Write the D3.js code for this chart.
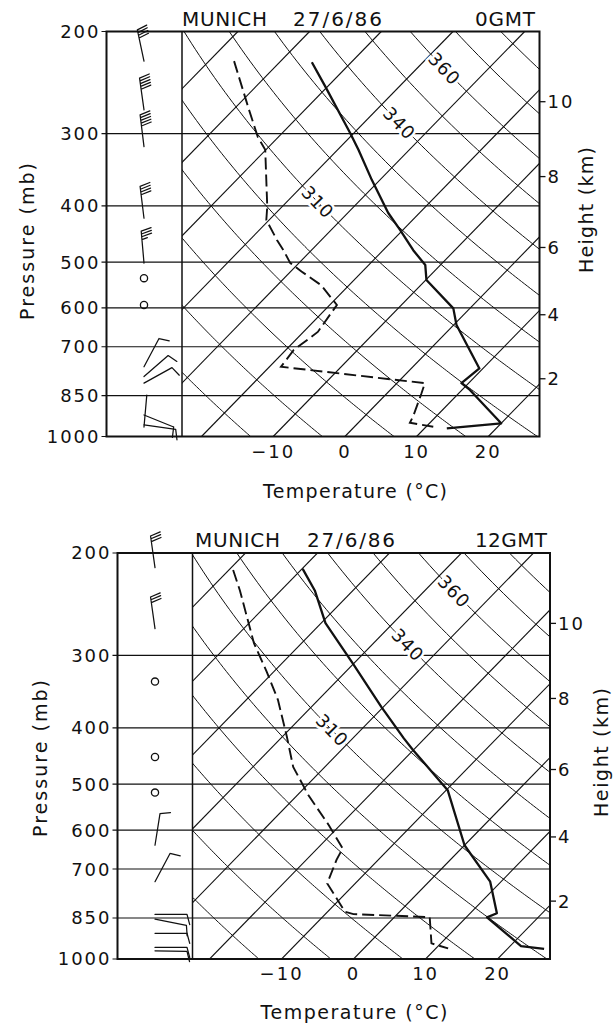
<!DOCTYPE html>
<html><head><meta charset="utf-8">
<script src="https://cdn.jsdelivr.net/npm/d3@7"></script>
<style>body{margin:0;background:#fff}svg{display:block}</style>
</head><body>
<script>
// ---------------- DATA ----------------
const pressureTicks = [200, 300, 400, 500, 600, 700, 850, 1000];
const tempTicks = [-10, 0, 10, 20];
const heightTicks = [2, 4, 6, 8, 10];           // km
const isothermValues = d3.range(-90, 41, 10);   // grid isotherms (°C)
const thetaValues = d3.range(240, 411, 10);     // grid dry adiabats (K)
const thetaLabels = [310, 340, 360];

// 0 GMT sounding
const tempP_00 = [226, 249, 299, 320, 361, 411, 440, 477, 506, 537, 601, 642, 763, 809, 831, 949, 968];
const tempT_00 = [-55.5, -50.3, -40.6, -37.1, -31.1, -24.4, -20.4, -15.8, -12.1, -9.9, -2.3, 0.4, 9.5, 9.0, 11.1, 20.0, 13.1];
const dewP_00 = [225, 273, 304, 320, 401, 423, 458, 477, 502, 519, 548, 593, 660, 709, 758, 809, 842, 924, 947, 962];
const dewT_00 = [-66.5, -57.8, -52.9, -50.1, -42.1, -40.4, -36.2, -33.9, -31.2, -28.5, -23.9, -19.0, -18.0, -18.9, -18.4, 3.9, 4.8, 6.8, 7.2, 11.0];
const windP_00 = [225, 273, 316, 420, 502, 533, 593, 758, 788, 809, 918, 955, 963];
const windDir_00 = [348, 352, 353, 353, 355, 0, 0, 28, 49, 61, 112, 98, 5];
const windSpd_00 = [40, 50, 50, 40, 35, 0, 0, 10, 10, 10, 10, 10, 3];
const thetaLabelP_00 = [394, 288, 232];

// 12 GMT sounding
const tempP_12 = [213, 232, 264, 310, 368, 417, 437, 512, 637, 736, 834, 848, 950, 961];
const tempT_12 = [-59.9, -55.3, -49.4, -40.1, -30.3, -22.9, -20.0, -9.8, 0.0, 8.5, 13.7, 12.9, 21.5, 25.1];
const dewP_12 = [214, 232, 286, 320, 358, 414, 467, 522, 588, 645, 675, 741, 829, 837, 847, 940, 959];
const dewT_12 = [-69.4, -65.7, -56.6, -51.0, -45.6, -39.4, -34.4, -28.5, -21.6, -16.5, -15.8, -13.9, -7.6, -6.1, 4.9, 8.7, 11.7];
const windP_12 = [212, 270, 333, 449, 517, 637, 736, 838, 854, 903, 955, 968];
const windDir_12 = [352, 352, 0, 0, 0, 9, 28, 90, 101, 90, 90, 91];
const windSpd_12 = [30, 30, 0, 0, 0, 10, 10, 10, 10, 10, 10, 10];
const thetaLabelP_12 = [404, 288, 233];

// ---------------- LAYOUT ----------------
const W = 613, H = 1025;
const FONT = "'DejaVu Sans', 'Liberation Sans', Arial, sans-serif";
const INK = "#111";

const panels = [
  { left: 106.5, div: 182, right: 539.5, top: 31.5, bottom: 436.5, t0: 344.9, k: 7.17, s: 0.975, barbX: 144,
    title: [["MUNICH", 182, 85], ["27/6/86", 293, 89], ["0GMT", 475, 60]], titleY: 25.5,
    tempP: tempP_00, tempT: tempT_00, dewP: dewP_00, dewT: dewT_00,
    windP: windP_00, windDir: windDir_00, windSpd: windSpd_00, labP: thetaLabelP_00,
    xTitle: { x: 355, y: 498, len: 184 }, pTitle: { x: 33.5, y: 241.5, len: 157 }, hTitle: { x: 593, y: 210, len: 126 } },
  { left: 117.5, div: 192.5, right: 550, top: 553, bottom: 959, t0: 353.6, k: 7.2, s: 0.975, barbX: 155,
    title: [["MUNICH", 195, 85], ["27/6/86", 307, 88], ["12GMT", 475, 72]], titleY: 547,
    tempP: tempP_12, tempT: tempT_12, dewP: dewP_12, dewT: dewT_12,
    windP: windP_12, windDir: windDir_12, windSpd: windSpd_12, labP: thetaLabelP_12,
    xTitle: { x: 354, y: 1019, len: 187 }, pTitle: { x: 46.5, y: 758.5, len: 157 }, hTitle: { x: 608, y: 752.5, len: 129 } }
];

const svg = d3.select("body").append("svg").attr("width", W).attr("height", H)
  .style("font-family", FONT);

// standard atmosphere height (km) -> pressure (mb)
const stdP = h => 1013.25 * Math.pow(1 - 2.25577e-5 * h * 1000, 5.25588);

function drawBarb(g, sx, sy, dir, spd) {
  if (spd === 0) {
    g.append("circle").attr("cx", sx).attr("cy", sy).attr("r", 3.6)
      .attr("fill", "none").attr("stroke", INK).attr("stroke-width", 1.3);
    return;
  }
  const a = dir * Math.PI / 180, ux = Math.sin(a), uy = -Math.cos(a);
  const SL = 32, FL = 10.5, gap = 2.8, tilt = 15 * Math.PI / 180;
  const tx = sx + ux * SL, ty = sy + uy * SL;
  const px = -uy, py = ux;
  const fx = Math.cos(tilt) * px + Math.sin(tilt) * ux, fy = Math.cos(tilt) * py + Math.sin(tilt) * uy;
  let d = `M${sx},${sy}L${tx},${ty}`;
  const n = Math.floor(spd / 10), half = (spd % 10) >= 5;
  for (let i = 0; i < n; i++) {
    const bx = tx - ux * gap * i, by = ty - uy * gap * i;
    d += `M${bx},${by}l${fx * FL},${fy * FL}`;
  }
  if (half) {
    const bx = tx - ux * gap * n, by = ty - uy * gap * n;
    d += `M${bx},${by}l${fx * FL * 0.55},${fy * FL * 0.55}`;
  }
  g.append("path").attr("d", d).attr("fill", "none").attr("stroke", INK)
    .attr("stroke-width", 1.25).attr("stroke-linecap", "round");
}

panels.forEach((L, idx) => {
  const g = svg.append("g");
  const y = d3.scaleLog().domain([1000, 200]).range([L.bottom, L.top]);
  const xt = d3.scaleLinear().domain([0, 10]).range([L.t0, L.t0 + 10 * L.k]);
  const X = (T, p) => xt(T) + L.s * (L.bottom - y(p));
  const thetaT = (th, p) => th * Math.pow(p / 1000, 0.286) - 273.15;

  const cid = "clip" + idx;
  svg.append("defs").append("clipPath").attr("id", cid).append("rect")
    .attr("x", L.div).attr("y", L.top).attr("width", L.right - L.div).attr("height", L.bottom - L.top);
  const grid = g.append("g").attr("clip-path", `url(#${cid})`);

  // isotherms
  grid.selectAll("line.iso").data(isothermValues).join("line")
    .attr("x1", T => X(T, 1000)).attr("y1", y(1000))
    .attr("x2", T => X(T, 200)).attr("y2", y(200))
    .attr("stroke", INK).attr("stroke-width", 1.1);

  // dry adiabats
  const ps = d3.range(1000, 194, -5);
  const line = d3.line();
  grid.selectAll("path.ad").data(thetaValues).join("path")
    .attr("d", th => line(ps.map(p => [X(thetaT(th, p), p), y(p)])))
    .attr("fill", "none").attr("stroke", INK).attr("stroke-width", 1.0);

  // isobars (full width)
  g.selectAll("line.isobar").data(pressureTicks).join("line")
    .attr("x1", L.left - 5).attr("x2", L.right)
    .attr("y1", p => y(p)).attr("y2", p => y(p))
    .attr("stroke", INK).attr("stroke-width", 1.2);

  // theta labels
  thetaLabels.forEach((th, i) => {
    const p = L.labP[i];
    const x0 = X(thetaT(th, p - 8), p - 8), y0 = y(p - 8);
    const x1 = X(thetaT(th, p + 8), p + 8), y1 = y(p + 8);
    const ang = Math.atan2(y1 - y0, x1 - x0) * 180 / Math.PI;
    const cx = X(thetaT(th, p), p), cy = y(p);
    g.append("text").attr("transform", `translate(${cx},${cy}) rotate(${ang})`)
      .attr("text-anchor", "middle").attr("dy", "0.36em")
      .attr("font-size", 18).attr("letter-spacing", 1)
      .attr("fill", INK).attr("stroke", "#fff").attr("stroke-width", 5)
      .attr("paint-order", "stroke").text(th);
  });

  // dew point (dashed)
  g.append("path")
    .attr("d", line(L.dewP.map((p, i) => [X(L.dewT[i], p), y(p)])))
    .attr("fill", "none").attr("stroke", INK).attr("stroke-width", 1.9)
    .attr("stroke-dasharray", "12,5").attr("clip-path", `url(#${cid})`);

  // temperature (solid)
  g.append("path")
    .attr("d", line(L.tempP.map((p, i) => [X(L.tempT[i], p), y(p)])))
    .attr("fill", "none").attr("stroke", INK).attr("stroke-width", 2.3)
    .attr("stroke-linejoin", "round").attr("clip-path", `url(#${cid})`);

  // frame
  g.append("rect").attr("x", L.left).attr("y", L.top)
    .attr("width", L.right - L.left).attr("height", L.bottom - L.top)
    .attr("fill", "none").attr("stroke", INK).attr("stroke-width", 2);
  g.append("line").attr("x1", L.div).attr("x2", L.div).attr("y1", L.top).attr("y2", L.bottom)
    .attr("stroke", INK).attr("stroke-width", 1.5);

  // wind barbs
  const bg = g.append("g");
  L.windP.forEach((p, i) => drawBarb(bg, L.barbX, y(p), L.windDir[i], L.windSpd[i]));

  // pressure tick labels
  g.selectAll("text.pl").data(pressureTicks).join("text")
    .attr("x", L.left - 6).attr("y", p => y(p)).attr("dy", "0.36em")
    .attr("text-anchor", "end").attr("font-size", 18).attr("letter-spacing", 2)
    .attr("fill", INK).text(p => p);

  // temperature tick labels
  g.selectAll("text.tl").data(tempTicks).join("text")
    .attr("x", T => X(T, 1000)).attr("y", L.bottom + 21)
    .attr("text-anchor", "middle").attr("font-size", 18).attr("letter-spacing", 2)
    .attr("fill", INK).text(T => T < 0 ? "\u2212" + Math.abs(T) : T);

  // height ticks
  g.selectAll("line.ht").data(heightTicks).join("line")
    .attr("x1", L.right).attr("x2", L.right + 6)
    .attr("y1", h => y(stdP(h))).attr("y2", h => y(stdP(h)))
    .attr("stroke", INK).attr("stroke-width", 1.3);
  g.selectAll("text.hl").data(heightTicks).join("text")
    .attr("x", L.right + 8).attr("y", h => y(stdP(h))).attr("dy", "0.36em")
    .attr("font-size", 18).attr("letter-spacing", 2).attr("fill", INK).text(h => h);

  // titles
  L.title.forEach(([t, x, len]) => {
    g.append("text").attr("x", x).attr("y", L.titleY).attr("font-size", 20)
      .attr("textLength", len).attr("lengthAdjust", "spacing").attr("fill", INK).text(t);
  });

  // axis titles
  g.append("text").attr("x", L.xTitle.x).attr("y", L.xTitle.y).attr("text-anchor", "middle")
    .attr("font-size", 19).attr("textLength", L.xTitle.len).attr("lengthAdjust", "spacing")
    .attr("fill", INK).text("Temperature (\u00B0C)");
  g.append("text").attr("transform", `translate(${L.pTitle.x},${L.pTitle.y}) rotate(-90)`)
    .attr("text-anchor", "middle").attr("font-size", 19)
    .attr("textLength", L.pTitle.len).attr("lengthAdjust", "spacing")
    .attr("fill", INK).text("Pressure (mb)");
  g.append("text").attr("transform", `translate(${L.hTitle.x},${L.hTitle.y}) rotate(-90)`)
    .attr("text-anchor", "middle").attr("font-size", 19)
    .attr("textLength", L.hTitle.len).attr("lengthAdjust", "spacing")
    .attr("fill", INK).text("Height (km)");
});
</script>
</body></html>
